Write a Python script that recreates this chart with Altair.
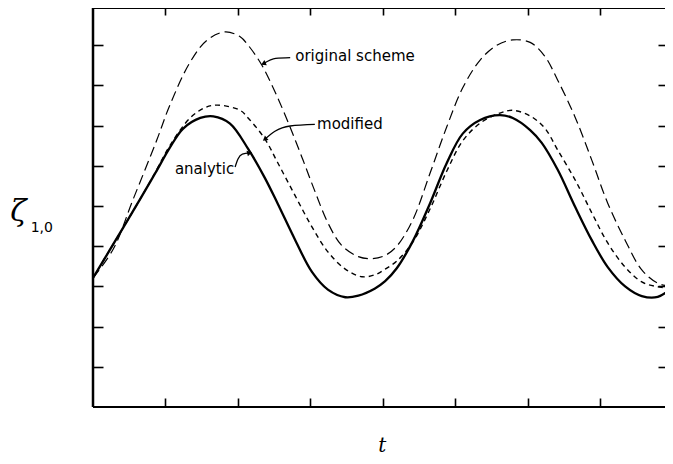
import altair as alt
import pandas as pd

# ---- data ----
T_ANALYTIC = [0, 0.23, 0.65, 0.86, 1.06, 1.24, 1.48, 1.66, 1.89, 2.14, 2.37, 2.55, 2.79, 3.02, 3.24,
              3.48, 3.66, 3.89, 4.03, 4.19, 4.41, 4.65, 4.88, 5.10, 5.34, 5.61, 5.79, 6.03, 6.19,
              6.41, 6.65, 6.88, 7.10, 7.34, 7.57, 7.79, 8.0]
Y_ANALYTIC = [3.21, 3.90, 5.17, 5.82, 6.45, 6.92, 7.19, 7.23, 7.05, 6.42, 5.70, 5.05, 4.15, 3.36, 2.92,
              2.73, 2.77, 2.95, 3.13, 3.45, 4.12, 5.07, 6.07, 6.80, 7.14, 7.26, 7.19, 6.89, 6.57,
              5.90, 4.98, 4.15, 3.48, 3.00, 2.76, 2.74, 2.99]

T_MODIFIED = [0, 0.23, 0.65, 0.86, 1.06, 1.34, 1.55, 1.72, 2.03, 2.14, 2.37, 2.55, 2.79, 3.02, 3.24,
              3.48, 3.71, 3.89, 4.03, 4.19, 4.41, 4.65, 4.88, 5.10, 5.34, 5.61, 5.79, 6.03, 6.23,
              6.41, 6.65, 6.88, 7.10, 7.34, 7.57, 7.79, 8.0]
Y_MODIFIED = [3.21, 3.90, 5.17, 5.84, 6.50, 7.19, 7.45, 7.51, 7.38, 7.19, 6.67, 6.07, 5.25, 4.48, 3.86,
              3.43, 3.24, 3.29, 3.43, 3.63, 4.10, 4.93, 5.87, 6.62, 7.06, 7.31, 7.38, 7.24, 6.94,
              6.39, 5.65, 4.83, 4.08, 3.48, 3.11, 2.99, 2.96]

T_ORIGINAL = [0, 0.28, 0.55, 0.88, 1.06, 1.34, 1.57, 1.82, 2.03, 2.14, 2.33, 2.51, 2.69, 2.88, 3.06,
              3.24, 3.43, 3.66, 3.85, 4.03, 4.19, 4.41, 4.65, 4.88, 5.10, 5.34, 5.57, 5.79, 6.03,
              6.23, 6.41, 6.65, 6.88, 7.10, 7.34, 7.57, 7.79, 8.0]
Y_ORIGINAL = [3.21, 3.93, 5.15, 6.64, 7.51, 8.58, 9.12, 9.33, 9.21, 9.00, 8.50, 7.84, 7.09, 6.22, 5.37,
              4.58, 4.02, 3.74, 3.69, 3.77, 4.00, 4.65, 5.82, 6.97, 7.94, 8.63, 9.00, 9.13, 9.07,
              8.73, 8.13, 7.21, 6.14, 5.07, 4.15, 3.41, 3.08, 2.99]

X_TICKS = [1, 2, 3, 4, 5, 6, 7]
Y_TICKS = [1, 2, 3, 4, 5, 6, 7, 8, 9]

LABELS = ["original scheme", "modified", "analytic"]
LABEL_T = [2.79, 3.09, 1.13]
LABEL_Y = [8.72, 7.04, 5.92]

# arrows (label -> curve)
ARROW_ID = [0, 0, 0, 1, 1, 1, 1, 2, 2, 2, 2]
ARROW_T = [2.72, 2.52, 2.35, 3.06, 2.72, 2.51, 2.37, 1.96, 2.00, 2.06, 2.16]
ARROW_Y = [8.69, 8.67, 8.54, 7.03, 6.99, 6.86, 6.66, 5.97, 6.17, 6.29, 6.32]
HEAD_T = [2.35, 2.37, 2.16]
HEAD_Y = [8.54, 6.66, 6.32]
HEAD_ANGLE = [155, 141, 346]

W, H = 572, 399
xs = alt.Scale(domain=[0, 7.89], nice=False, zero=False)
ys = alt.Scale(domain=[0, 9.925], nice=False, zero=False)


def df_line(t, y):
    return pd.DataFrame({"t": t, "v": y})


def ax(orient, offset, size):
    return alt.Axis(orient=orient, offset=offset, tickSize=size,
                    values=X_TICKS if orient in ("top", "bottom") else Y_TICKS,
                    labels=False, domain=False, grid=False, title=None, ticks=True,
                    tickColor="black", tickWidth=1.6)


analytic = alt.Chart(df_line(T_ANALYTIC, Y_ANALYTIC)).mark_line(
    color="black", strokeWidth=2.3, interpolate="catmull-rom", clip=True
).encode(
    x=alt.X("t:Q", scale=xs, axis=ax("bottom", -9, 9)),
    y=alt.Y("v:Q", scale=ys, axis=ax("left", -10, 10)),
)

modified = alt.Chart(df_line(T_MODIFIED, Y_MODIFIED)).mark_line(
    color="black", strokeWidth=1.4, strokeDash=[5, 4], interpolate="catmull-rom", clip=True
).encode(
    x=alt.X("t:Q", scale=xs, axis=ax("top", -7, 7)),
    y=alt.Y("v:Q", scale=ys, axis=ax("right", -7, 7)),
)

original = alt.Chart(df_line(T_ORIGINAL, Y_ORIGINAL)).mark_line(
    color="black", strokeWidth=1.2, strokeDash=[10, 5], interpolate="catmull-rom", clip=True
).encode(
    x=alt.X("t:Q", scale=xs, axis=None),
    y=alt.Y("v:Q", scale=ys, axis=None),
)

labels = alt.Chart(pd.DataFrame({"t": LABEL_T, "v": LABEL_Y, "label": LABELS})).mark_text(
    align="left", baseline="middle", font="DejaVu Sans", fontSize=15, color="black"
).encode(
    x=alt.X("t:Q", scale=xs, axis=None),
    y=alt.Y("v:Q", scale=ys, axis=None),
    text="label:N",
)

arrows = alt.Chart(pd.DataFrame({"id": ARROW_ID, "t": ARROW_T, "v": ARROW_Y,
                                 "o": list(range(len(ARROW_T)))})).mark_line(
    color="black", strokeWidth=1.3, interpolate="monotone"
).encode(
    x=alt.X("t:Q", scale=xs, axis=None),
    y=alt.Y("v:Q", scale=ys, axis=None),
    detail="id:N",
    order="o:Q",
)

heads = alt.Chart(pd.DataFrame({"t": HEAD_T, "v": HEAD_Y, "a": HEAD_ANGLE})).mark_point(
    shape="triangle-right", filled=True, color="black", size=32, opacity=1
).encode(
    x=alt.X("t:Q", scale=xs, axis=None),
    y=alt.Y("v:Q", scale=ys, axis=None),
    angle=alt.Angle("a:Q", scale=None),
)

# axis titles
zeta = alt.Chart(pd.DataFrame({"t": [-1.03], "v": [4.85], "s": ["ζ"]})).mark_text(
    font="DejaVu Serif", fontStyle="italic", fontSize=30, color="black", align="center", baseline="middle"
).encode(x=alt.X("t:Q", scale=xs, axis=None), y=alt.Y("v:Q", scale=ys, axis=None), text="s:N")

sub = alt.Chart(pd.DataFrame({"t": [-0.86], "v": [4.45], "s": ["1,0"]})).mark_text(
    font="DejaVu Sans", fontSize=14, color="black", align="left", baseline="middle"
).encode(x=alt.X("t:Q", scale=xs, axis=None), y=alt.Y("v:Q", scale=ys, axis=None), text="s:N")

tlab = alt.Chart(pd.DataFrame({"t": [3.99], "v": [-0.96], "s": ["t"]})).mark_text(
    font="DejaVu Serif", fontStyle="italic", fontSize=20, color="black", align="center", baseline="middle"
).encode(x=alt.X("t:Q", scale=xs, axis=None), y=alt.Y("v:Q", scale=ys, axis=None), text="s:N")

# frame (left, top, bottom; the right edge lies beyond the picture in the reference)
frame_src = pd.DataFrame({"k": [0]})
top_line = alt.Chart(frame_src).mark_rule(color="black", strokeWidth=2).encode(
    x=alt.value(0), x2=alt.value(W), y=alt.value(0))
bottom_line = alt.Chart(frame_src).mark_rule(color="black", strokeWidth=2).encode(
    x=alt.value(0), x2=alt.value(W), y=alt.value(H))
left_line = alt.Chart(frame_src).mark_rule(color="black", strokeWidth=2.5).encode(
    x=alt.value(0), y=alt.value(0), y2=alt.value(H))

chart = alt.layer(analytic, modified, original, arrows, heads, labels, zeta, sub, tlab,
                  top_line, bottom_line, left_line).resolve_axis(
    x="independent", y="independent"
).properties(
    width=W, height=H,
    autosize=alt.AutoSizeParams(type="none"),
    padding={"left": 85, "top": 0, "right": 0, "bottom": 49},
    background="white",
).configure_view(stroke=None)

chart.save("out.html", embed_options={"renderer": "svg", "actions": False})
